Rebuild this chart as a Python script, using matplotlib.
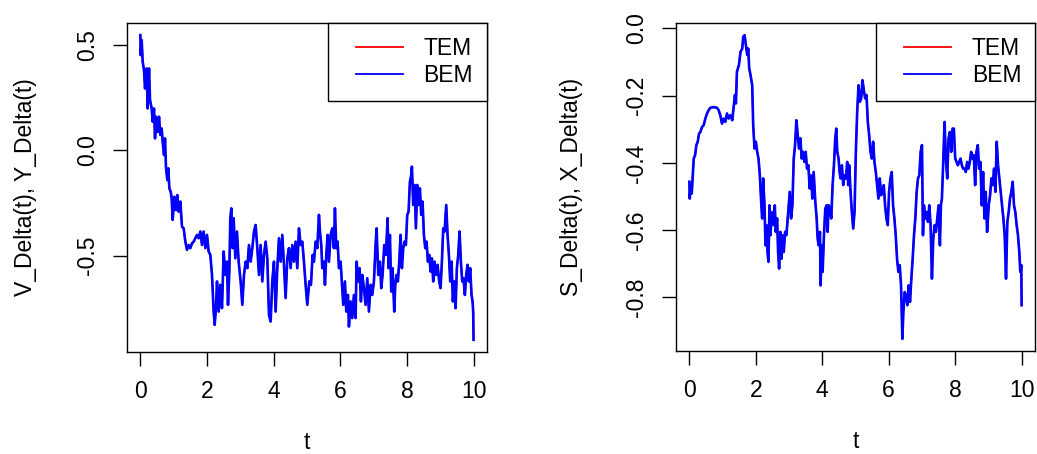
import matplotlib
matplotlib.use('Agg')

import numpy as np
import matplotlib.pyplot as plt
from matplotlib.lines import Line2D
from matplotlib.legend_handler import HandlerLine2D

plt.rcParams['font.family'] = ['Liberation Sans', 'DejaVu Sans']

# Left panel: V_Delta(t) / Y_Delta(t)
left_t = [0.00, 0.01, 0.04, 0.07, 0.11, 0.14, 0.19, 0.22, 0.26, 0.29, 0.34, 0.37, 0.41, 0.44,
          0.47, 0.52, 0.56, 0.60, 0.64, 0.67, 0.71, 0.74, 0.77, 0.81, 0.84, 0.87, 0.91, 0.94,
          0.97, 1.02, 1.07, 1.11, 1.15, 1.20, 1.25, 1.30, 1.35, 1.40, 1.45, 1.50, 1.55, 1.60,
          1.70, 1.75, 1.80, 1.85, 1.90, 1.95, 2.00, 2.05, 2.10, 2.15, 2.20, 2.23, 2.27, 2.30,
          2.35, 2.40, 2.45, 2.50, 2.55, 2.60, 2.63, 2.67, 2.70, 2.73, 2.77, 2.80, 2.85, 2.90,
          2.95, 3.01, 3.06, 3.11, 3.16, 3.21, 3.26, 3.31, 3.36, 3.41, 3.46, 3.51, 3.56, 3.61,
          3.66, 3.71, 3.76, 3.81, 3.86, 3.91, 3.96, 4.01, 4.06, 4.11, 4.16, 4.21, 4.26, 4.31,
          4.36, 4.41, 4.46, 4.51, 4.56, 4.61, 4.66, 4.71, 4.76, 4.81, 4.86, 4.91, 4.96, 5.01,
          5.07, 5.12, 5.17, 5.21, 5.26, 5.31, 5.36, 5.39, 5.43, 5.46, 5.51, 5.54, 5.58, 5.62,
          5.66, 5.71, 5.76, 5.81, 5.84, 5.88, 5.92, 5.96, 6.01, 6.06, 6.09, 6.14, 6.18, 6.23,
          6.26, 6.31, 6.36, 6.41, 6.46, 6.49, 6.54, 6.58, 6.62, 6.66, 6.71, 6.76, 6.81, 6.86,
          6.91, 6.96, 7.01, 7.06, 7.09, 7.14, 7.19, 7.23, 7.27, 7.32, 7.37, 7.42, 7.45, 7.49,
          7.53, 7.57, 7.62, 7.65, 7.69, 7.73, 7.77, 7.81, 7.85, 7.89, 7.93, 7.97, 8.01, 8.05,
          8.09, 8.13, 8.15, 8.19, 8.23, 8.27, 8.31, 8.35, 8.39, 8.43, 8.47, 8.51, 8.55, 8.59,
          8.63, 8.67, 8.71, 8.75, 8.79, 8.83, 8.87, 8.92, 8.97, 9.01, 9.05, 9.09, 9.13, 9.18,
          9.22, 9.26, 9.30, 9.34, 9.38, 9.42, 9.46, 9.50, 9.54, 9.58, 9.62, 9.66, 9.70, 9.74,
          9.78, 9.82, 9.86, 9.90, 9.94, 9.97, 9.99, 10.00]
left_bem = [0.547, 0.452, 0.523, 0.420, 0.381, 0.294, 0.389, 0.199, 0.389, 0.239, 0.199, 0.136,
            0.199, 0.057, 0.160, 0.088, 0.160, 0.073, 0.104, 0.041, -0.022, 0.057, -0.085,
            -0.141, -0.085, -0.180, -0.196, -0.227, -0.330, -0.220, -0.283, -0.212, -0.291,
            -0.243, -0.362, -0.370, -0.433, -0.472, -0.449, -0.464, -0.441, -0.433, -0.401,
            -0.417, -0.385, -0.449, -0.385, -0.464, -0.401, -0.480, -0.496, -0.591, -0.765,
            -0.828, -0.749, -0.622, -0.765, -0.638, -0.749, -0.480, -0.591, -0.528, -0.733,
            -0.575, -0.322, -0.275, -0.464, -0.322, -0.512, -0.385, -0.528, -0.622, -0.733,
            -0.591, -0.528, -0.559, -0.449, -0.528, -0.464, -0.385, -0.354, -0.464, -0.591,
            -0.449, -0.622, -0.496, -0.433, -0.512, -0.780, -0.812, -0.622, -0.528, -0.765,
            -0.559, -0.417, -0.528, -0.401, -0.543, -0.701, -0.512, -0.464, -0.559, -0.449,
            -0.528, -0.433, -0.559, -0.370, -0.449, -0.433, -0.528, -0.638, -0.733, -0.622,
            -0.638, -0.496, -0.528, -0.433, -0.464, -0.306, -0.385, -0.449, -0.559, -0.528,
            -0.638, -0.496, -0.401, -0.528, -0.401, -0.370, -0.464, -0.275, -0.464, -0.433,
            -0.559, -0.528, -0.654, -0.733, -0.622, -0.765, -0.686, -0.836, -0.717, -0.796,
            -0.686, -0.796, -0.528, -0.622, -0.559, -0.717, -0.591, -0.654, -0.733, -0.607,
            -0.765, -0.638, -0.686, -0.622, -0.449, -0.370, -0.591, -0.528, -0.654, -0.591,
            -0.449, -0.496, -0.322, -0.559, -0.401, -0.670, -0.559, -0.765, -0.638, -0.591,
            -0.622, -0.528, -0.401, -0.559, -0.464, -0.433, -0.449, -0.306, -0.291, -0.149,
            -0.117, -0.077, -0.259, -0.164, -0.370, -0.164, -0.259, -0.180, -0.306, -0.243,
            -0.401, -0.464, -0.433, -0.528, -0.496, -0.575, -0.512, -0.622, -0.528, -0.591,
            -0.543, -0.622, -0.654, -0.528, -0.370, -0.385, -0.259, -0.401, -0.496, -0.622,
            -0.528, -0.717, -0.622, -0.749, -0.559, -0.496, -0.385, -0.528, -0.622, -0.607,
            -0.686, -0.591, -0.543, -0.622, -0.559, -0.686, -0.717, -0.765, -0.899]
left_tem = left_bem  # TEM sits right under BEM in the picture

# Right panel: S_Delta(t) / X_Delta(t)
right_t = [0.00, 0.01, 0.04, 0.07, 0.10, 0.13, 0.17, 0.21, 0.25, 0.29, 0.33, 0.38, 0.43, 0.48,
           0.53, 0.58, 0.63, 0.73, 0.83, 0.88, 0.93, 0.98, 1.03, 1.08, 1.13, 1.18, 1.23, 1.29,
           1.34, 1.37, 1.40, 1.43, 1.49, 1.54, 1.59, 1.62, 1.66, 1.70, 1.74, 1.77, 1.80, 1.84,
           1.89, 1.92, 1.96, 2.00, 2.04, 2.08, 2.12, 2.16, 2.19, 2.22, 2.26, 2.29, 2.32, 2.35,
           2.38, 2.41, 2.44, 2.47, 2.50, 2.54, 2.57, 2.60, 2.64, 2.67, 2.70, 2.74, 2.77, 2.80,
           2.84, 2.88, 2.92, 2.96, 2.99, 3.02, 3.06, 3.10, 3.14, 3.18, 3.22, 3.26, 3.30, 3.34,
           3.38, 3.42, 3.46, 3.50, 3.54, 3.58, 3.62, 3.66, 3.70, 3.74, 3.79, 3.83, 3.86, 3.89,
           3.93, 3.95, 3.98, 4.01, 4.05, 4.09, 4.13, 4.16, 4.19, 4.23, 4.27, 4.31, 4.35, 4.39,
           4.42, 4.45, 4.49, 4.52, 4.55, 4.59, 4.63, 4.67, 4.71, 4.75, 4.78, 4.81, 4.85, 4.89,
           4.93, 4.97, 5.01, 5.05, 5.09, 5.13, 5.17, 5.21, 5.25, 5.29, 5.33, 5.37, 5.41, 5.45,
           5.49, 5.53, 5.57, 5.61, 5.65, 5.69, 5.73, 5.77, 5.81, 5.85, 5.89, 5.93, 5.97, 6.01,
           6.05, 6.09, 6.13, 6.17, 6.21, 6.25, 6.29, 6.33, 6.37, 6.41, 6.44, 6.48, 6.52, 6.56,
           6.60, 6.64, 6.68, 6.72, 6.76, 6.80, 6.84, 6.88, 6.92, 6.96, 7.00, 7.03, 7.06, 7.10,
           7.14, 7.18, 7.22, 7.26, 7.30, 7.34, 7.38, 7.42, 7.46, 7.50, 7.54, 7.57, 7.60, 7.64,
           7.68, 7.72, 7.76, 7.80, 7.84, 7.88, 7.92, 7.96, 8.00, 8.04, 8.08, 8.12, 8.16, 8.20,
           8.24, 8.28, 8.32, 8.36, 8.40, 8.44, 8.48, 8.52, 8.56, 8.60, 8.64, 8.68, 8.72, 8.76,
           8.80, 8.84, 8.88, 8.92, 8.96, 9.01, 9.05, 9.09, 9.13, 9.17, 9.21, 9.25, 9.29, 9.33,
           9.37, 9.41, 9.45, 9.49, 9.53, 9.57, 9.61, 9.65, 9.69, 9.73, 9.77, 9.81, 9.85, 9.89,
           9.93, 9.96, 9.99, 10.00]
right_bem = [-0.456, -0.506, -0.466, -0.491, -0.437, -0.387, -0.377, -0.347, -0.337, -0.313,
             -0.308, -0.293, -0.288, -0.268, -0.253, -0.243, -0.236, -0.234, -0.236, -0.243,
             -0.258, -0.283, -0.268, -0.278, -0.253, -0.268, -0.258, -0.273, -0.228, -0.198,
             -0.223, -0.129, -0.109, -0.069, -0.060, -0.025, -0.020, -0.050, -0.079, -0.060,
             -0.119, -0.139, -0.169, -0.288, -0.357, -0.337, -0.367, -0.387, -0.437, -0.516,
             -0.565, -0.446, -0.526, -0.645, -0.585, -0.665, -0.694, -0.526, -0.615, -0.565,
             -0.546, -0.585, -0.526, -0.605, -0.565, -0.665, -0.714, -0.605, -0.685, -0.615,
             -0.665, -0.605, -0.615, -0.565, -0.526, -0.486, -0.565, -0.526, -0.387, -0.347,
             -0.273, -0.317, -0.357, -0.327, -0.387, -0.367, -0.397, -0.367, -0.417, -0.407,
             -0.476, -0.437, -0.506, -0.427, -0.516, -0.565, -0.625, -0.645, -0.605, -0.764,
             -0.645, -0.724, -0.615, -0.536, -0.526, -0.605, -0.526, -0.536, -0.565, -0.466,
             -0.407, -0.327, -0.298, -0.367, -0.387, -0.427, -0.446, -0.407, -0.466, -0.437,
             -0.446, -0.397, -0.466, -0.407, -0.486, -0.546, -0.595, -0.546, -0.367, -0.248,
             -0.169, -0.218, -0.208, -0.154, -0.184, -0.208, -0.198, -0.278, -0.317, -0.367,
             -0.387, -0.337, -0.397, -0.427, -0.466, -0.506, -0.446, -0.496, -0.486, -0.466,
             -0.526, -0.565, -0.585, -0.486, -0.446, -0.427, -0.526, -0.565, -0.615, -0.685,
             -0.724, -0.704, -0.764, -0.923, -0.843, -0.784, -0.794, -0.823, -0.764, -0.813,
             -0.744, -0.685, -0.615, -0.565, -0.486, -0.446, -0.437, -0.367, -0.347, -0.615,
             -0.526, -0.565, -0.546, -0.575, -0.526, -0.585, -0.744, -0.625, -0.585, -0.605,
             -0.565, -0.526, -0.645, -0.526, -0.506, -0.397, -0.278, -0.387, -0.446, -0.327,
             -0.308, -0.367, -0.298, -0.298, -0.387, -0.397, -0.407, -0.397, -0.387, -0.407,
             -0.417, -0.417, -0.427, -0.397, -0.417, -0.397, -0.367, -0.387, -0.377, -0.466,
             -0.367, -0.347, -0.417, -0.397, -0.526, -0.427, -0.565, -0.486, -0.605, -0.526,
             -0.496, -0.446, -0.466, -0.417, -0.486, -0.337, -0.407, -0.446, -0.486, -0.526,
             -0.565, -0.615, -0.744, -0.575, -0.546, -0.506, -0.486, -0.456, -0.526, -0.546,
             -0.585, -0.615, -0.665, -0.724, -0.704, -0.823]
right_tem = right_bem

x_ticks = [0, 2, 4, 6, 8, 10]
left_yticks = [-0.5, 0.0, 0.5]
right_yticks = [-0.8, -0.6, -0.4, -0.2, 0.0]
labels = ['TEM', 'BEM']

FS = 16.5


def r_limits(values):
    """R style axis range: data range padded by 4% on each side"""
    lo, hi = min(values), max(values)
    pad = (hi - lo) * 0.04
    return lo - pad, hi + pad


def draw_panel(ax, t, tem, bem, yticks, ylabel, ylabel_x):
    ax.plot(t, tem, color='red', linewidth=1.3, label=labels[0])
    ax.plot(t, bem, color='blue', linewidth=1.9, label=labels[1])
    ax.set_xlim(r_limits(t))
    ax.set_ylim(r_limits(bem))
    ax.set_xticks(x_ticks)
    ax.set_yticks(yticks)
    ax.set_yticklabels([f'{v:.1f}' for v in yticks])
    ax.tick_params(direction='out', length=10, width=1, labelsize=FS, pad=10, colors='black')
    ax.tick_params(axis='y', labelrotation=90)
    for lab in ax.get_yticklabels():
        lab.set_va('center')
    for sp in ax.spines.values():
        sp.set_linewidth(1.0)
        sp.set_color('black')
    ax.set_xlabel('t', fontsize=FS)
    ax.xaxis.set_label_coords(0.5, -0.295)
    ax.xaxis.label.set_va('baseline')
    ax.set_ylabel(ylabel, fontsize=FS)
    ax.yaxis.set_label_coords(ylabel_x, 0.5)
    leg = ax.legend(loc='upper right', borderaxespad=0, fontsize=FS, fancybox=False,
                    edgecolor='black', framealpha=1, handlelength=2.67, handletextpad=0.92,
                    labelspacing=0.18, borderpad=0.6,
                    handler_map={Line2D: HandlerLine2D(xpad=0.62)})
    leg.get_frame().set_linewidth(1.0)
    for line in leg.get_lines():
        line.set_linewidth(1.3)


fig = plt.figure(figsize=(10.37, 4.54), dpi=100)
ax1 = fig.add_axes([0.1225, 0.2247, 0.347, 0.7247])
ax2 = fig.add_axes([0.652, 0.2269, 0.346, 0.7225])

draw_panel(ax1, left_t, left_tem, left_bem, left_yticks, 'V_Delta(t), Y_Delta(t)', -0.25)
draw_panel(ax2, right_t, right_tem, right_bem, right_yticks, 'S_Delta(t), X_Delta(t)', -0.26)

plt.savefig('out.png', dpi=100)
plt.close()
